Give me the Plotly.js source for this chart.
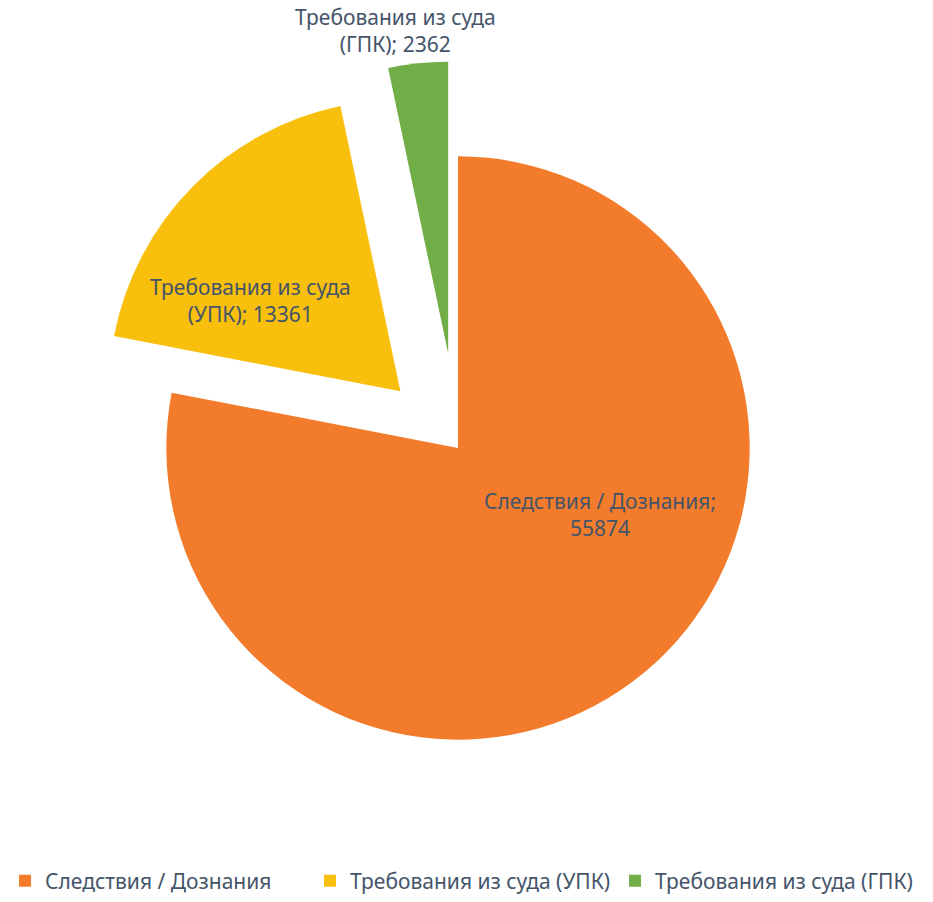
<!DOCTYPE html>
<html>
<head>
<meta charset="utf-8">
<script src="https://cdn.plot.ly/plotly-3.0.1.min.js"></script>
<style>html,body{margin:0;padding:0;background:#fff;}#chart{width:933px;height:902px;}</style>
</head>
<body>
<div id="chart"></div>
<script>
const categories = ['Следствия / Дознания', 'Требования из суда (УПК)', 'Требования из суда (ГПК)'];
const values = [55874, 13361, 2362];
const colors = ['#F27C2C', '#F8BF0C', '#71AE48'];
const pulls = [0, 0.277, 0.326];

// Data label text, split into lines as in the original chart
const labelLines = [
  [categories[0] + ';', String(values[0])],
  ['Требования из суда', '(УПК); ' + values[1]],
  ['Требования из суда', '(ГПК); ' + values[2]]
];
// label anchor positions (paper coords), layout only
const labelPos = [[0.643, 0.427], [0.268, 0.665], [0.4234, 0.9656]];

const FONT = 'Noto Sans, Open Sans, sans-serif';
const TXT = '#44546A';

const trace = {
  type: 'pie',
  labels: categories,
  values: values,
  textinfo: 'none',
  marker: {colors: colors, line: {width: 0}},
  pull: pulls,
  sort: false,
  direction: 'clockwise',
  rotation: 0,
  hoverinfo: 'label+value',
  automargin: false,
  domain: {x: [0.0745, 0.9073], y: [0.0704, 0.9318]}
};

const annotations = labelLines.map((lines, i) => ({
  text: lines.join('<br>'),
  xref: 'paper', yref: 'paper',
  x: labelPos[i][0], y: labelPos[i][1],
  xanchor: 'center', yanchor: 'middle',
  showarrow: false,
  font: {family: FONT, size: 21, color: TXT}
}));

const layout = {
  width: 933,
  height: 902,
  margin: {l: 0, r: 0, t: 0, b: 0},
  paper_bgcolor: '#ffffff',
  plot_bgcolor: '#ffffff',
  showlegend: true,
  annotations: annotations,
  legend: {
    orientation: 'h',
    x: 0.0054, xanchor: 'left',
    y: 0.0188, yanchor: 'middle',
    entrywidth: 260,
    font: {family: FONT, size: 21, color: TXT}
  }
};

Plotly.newPlot('chart', [trace], layout, {displayModeBar: false, staticPlot: true});
</script>
</body>
</html>
